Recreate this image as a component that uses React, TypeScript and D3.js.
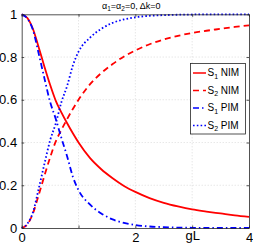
import React, { useEffect, useRef } from "react";
import * as d3 from "d3";

// gL sample points and the four curves
const gL = [0, 0.1, 0.2, 0.3, 0.4, 0.5, 0.6, 0.7, 0.8, 0.9, 1.0, 1.2, 1.4, 1.6, 1.8, 2.0, 2.25, 2.5, 2.75, 3.0, 3.25, 3.5, 3.75, 4.0];
const s1Nim = [1, 0.983, 0.93, 0.845, 0.755, 0.67, 0.595, 0.54, 0.49, 0.443, 0.4, 0.328, 0.275, 0.233, 0.197, 0.169, 0.14, 0.118, 0.101, 0.087, 0.077, 0.068, 0.059, 0.052];
const s2Nim = [0, 0.017, 0.07, 0.155, 0.245, 0.33, 0.405, 0.46, 0.51, 0.557, 0.6, 0.672, 0.725, 0.767, 0.803, 0.831, 0.86, 0.882, 0.899, 0.913, 0.923, 0.932, 0.941, 0.948];
const s1Pim = [1, 0.98, 0.925, 0.815, 0.7, 0.59, 0.51, 0.42, 0.335, 0.24, 0.177, 0.11, 0.068, 0.04, 0.024, 0.014, 0.007, 0.004, 0.002, 0.001, 0.0005, 0, 0, 0];
const s2Pim = [0, 0.02, 0.075, 0.185, 0.3, 0.41, 0.49, 0.59, 0.665, 0.76, 0.825, 0.89, 0.932, 0.96, 0.976, 0.986, 0.993, 0.996, 0.998, 0.999, 1, 1, 1, 1];

const xTicks = [0, 1, 2, 3, 4];
const xTickLabels = ["0", "", "2", "gL", "4"];
const yTicks = [0, 0.2, 0.4, 0.6, 0.8, 1];
const yTickLabels = ["0", "0.2", "0.4", "0.6", "0.8", "1"];

const series = [
  { sub: "1", name: "NIM", values: s1Nim, color: "#ff0000", dash: null },
  { sub: "2", name: "NIM", values: s2Nim, color: "#ff0000", dash: "6,4" },
  { sub: "1", name: "PIM", values: s1Pim, color: "#0000ff", dash: "6,3,1.5,3" },
  { sub: "2", name: "PIM", values: s2Pim, color: "#0000ff", dash: "1.6,2.2" },
];

const font = "'Liberation Sans', Arial, sans-serif";

export default function App() {
  const ref = useRef<SVGSVGElement>(null);

  useEffect(() => {
    const svg = d3.select(ref.current);
    svg.selectAll("*").remove();

    const left = 21.7, right = 249, top = 14.3, bottom = 228;
    const x = d3.scaleLinear().domain([0, 4]).range([left, right]);
    const y = d3.scaleLinear().domain([0, 1]).range([bottom, top]);

    svg.append("rect").attr("width", 253).attr("height", 245).attr("fill", "#fff");

    // grid
    const grid = svg.append("g").attr("stroke", "#c4c4c4").attr("stroke-width", 0.6).attr("stroke-dasharray", "1,2");
    grid.selectAll("line.gx")
      .data(xTicks.slice(1, -1))
      .join("line")
      .attr("x1", d => x(d)).attr("x2", d => x(d))
      .attr("y1", top).attr("y2", bottom);
    grid.selectAll("line.gy")
      .data(yTicks.slice(1, -1))
      .join("line")
      .attr("class", "gy")
      .attr("x1", left).attr("x2", right)
      .attr("y1", d => y(d)).attr("y2", d => y(d));

    // curves
    const line = d3.line<number>()
      .x((_, i) => x(gL[i]))
      .y(d => y(d))
      .curve(d3.curveMonotoneX);

    series.forEach(s => {
      svg.append("path")
        .attr("d", line(s.values))
        .attr("fill", "none")
        .attr("stroke", s.color)
        .attr("stroke-width", 1.8)
        .attr("stroke-dasharray", s.dash);
    });

    // axes, ticks inside as in the original
    const ax = (g, axis) => {
      g.call(axis);
      g.select(".domain").attr("stroke", "#262626").attr("stroke-width", 0.8);
      g.selectAll(".tick line").attr("stroke", "#262626").attr("stroke-width", 0.8);
      g.selectAll("text").attr("font-family", font).attr("font-size", 13).attr("fill", "#000");
    };

    const xb = svg.append("g").attr("transform", `translate(0,${bottom})`);
    ax(xb, d3.axisBottom(x).tickValues(xTicks).tickSizeInner(-2.5).tickSizeOuter(0).tickPadding(5)
      .tickFormat((_, i) => xTickLabels[i]));
    xb.selectAll("text").filter(d => d === 3).attr("dy", "0.5em");

    const yl = svg.append("g").attr("transform", `translate(${left},0)`);
    ax(yl, d3.axisLeft(y).tickValues(yTicks).tickSizeInner(-2.5).tickSizeOuter(0).tickPadding(4.5)
      .tickFormat((_, i) => yTickLabels[i]));

    const xt = svg.append("g").attr("transform", `translate(0,${top})`);
    ax(xt, d3.axisTop(x).tickValues(xTicks).tickSizeInner(-2.5).tickSizeOuter(0).tickFormat(() => ""));

    const yr = svg.append("g").attr("transform", `translate(${right},0)`);
    ax(yr, d3.axisRight(y).tickValues(yTicks).tickSizeInner(-2.5).tickSizeOuter(0).tickFormat(() => ""));

    // title
    const title = svg.append("text")
      .attr("x", 102).attr("y", 8.5)
      .attr("font-family", font).attr("font-size", 9).attr("fill", "#000");
    title.append("tspan").text("α");
    title.append("tspan").attr("dy", 2).attr("font-size", 6.5).text("1");
    title.append("tspan").attr("dy", -2).text("=α");
    title.append("tspan").attr("dy", 2).attr("font-size", 6.5).text("2");
    title.append("tspan").attr("dy", -2).text("=0, Δk=0");

    // legend
    const lg = svg.append("g");
    lg.append("rect")
      .attr("x", 190.5).attr("y", 63.5).attr("width", 55).attr("height", 70.5)
      .attr("fill", "#fff").attr("stroke", "#262626").attr("stroke-width", 0.8);
    series.forEach((s, i) => {
      const cy = 73 + i * 17.5;
      lg.append("line")
        .attr("x1", 193).attr("x2", 206).attr("y1", cy).attr("y2", cy)
        .attr("stroke", s.color).attr("stroke-width", 1.5)
        .attr("stroke-dasharray", s.dash);
      const t = lg.append("text")
        .attr("x", 207.5).attr("y", cy + 3)
        .attr("font-family", font).attr("font-size", 10).attr("fill", "#000");
      t.append("tspan").text("S");
      t.append("tspan").attr("dy", 2.5).attr("font-size", 7).text(s.sub);
      t.append("tspan").attr("dy", -2.5).text(" " + s.name);
    });
  }, []);

  return (
    <svg
      ref={ref}
      width={253}
      height={245}
      style={{ position: "absolute", left: 0, top: 0, display: "block" }}
    />
  );
}
